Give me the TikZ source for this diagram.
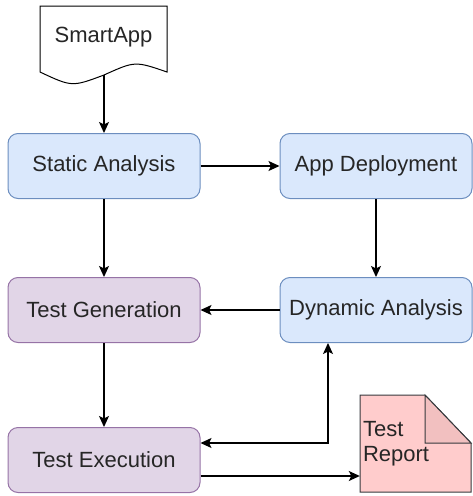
\documentclass[tikz,border=0pt]{standalone}
\usepackage{fontspec}
\setmainfont{Liberation Sans}
\usetikzlibrary{arrows.meta,calc}
\definecolor{bluefill}{HTML}{DAE8FC}
\definecolor{bluedraw}{HTML}{6C8EBF}
\definecolor{purpfill}{HTML}{E1D5E7}
\definecolor{purpdraw}{HTML}{9673A6}
\definecolor{notefill}{HTML}{FFCCCC}
\definecolor{notefold}{HTML}{F2C0C0}
\definecolor{notedraw}{HTML}{36393D}
\definecolor{txt}{HTML}{262626}
\begin{document}
\begin{tikzpicture}[x=1pt,y=-1pt,
  every node/.style={font=\fontsize{22}{25}\selectfont, text=txt, inner sep=0pt},
  box/.style={rounded corners=10pt, minimum width=192pt, minimum height=65pt, line width=1pt},
  bluebox/.style={box, draw=bluedraw, fill=bluefill},
  purpbox/.style={box, draw=purpdraw, fill=purpfill},
  arr/.style={-{Stealth[length=11pt,width=10pt,inset=2.5pt]}, line width=1.3pt, black},
  arrboth/.style={{Stealth[length=11pt,width=10pt,inset=2.5pt]}-{Stealth[length=11pt,width=10pt,inset=2.5pt]}, line width=1.3pt, black}]
\useasboundingbox (0,0) rectangle (472,496);
% document shape
\draw[line width=1pt, fill=white] (40,6) -- (167,6) -- (167,72) .. controls (135,61) .. (104,75) .. controls (72,87) .. (40,72) -- cycle;
\node (smart) at (103.5,37) {SmartApp};
\coordinate (smartb) at (104,75);
% boxes
\node[bluebox] (sa) at (104,166) {Static Analysis};
\node[bluebox] (ad) at (376,166) {App Deployment};
\node[purpbox] (tg) at (104,310) {Test Generation};
\node[bluebox] (da) at (376,310) {Dynamic Analysis};
\node[purpbox] (te) at (104,460) {Test Execution};
% note shape
\draw[line width=1pt, draw=notedraw, fill=notefill] (360,395) -- (425,395) -- (471,443) -- (471,492) -- (360,492) -- cycle;
\draw[line width=1pt, draw=notedraw, fill=notefold] (425,395) -- (425,443) -- (471,443) -- cycle;
\node[minimum height=97pt, text width=105pt, inner xsep=3pt, align=left] (tr) at (415.5,443.5) {Test\\Report};
% connectors
\draw[arr] (smartb) -- (sa);
\draw[arr] (sa) -- (ad);
\draw[arr] (sa) -- (tg);
\draw[arr] (ad) -- (da);
\draw[arr] (da) -- (tg);
\draw[arr] (tg) -- (te);
\draw[arrboth] (te.east |- 0,443) -| (da.south -| 328,0);
\draw[arr] (te.east |- 0,476) -- (tr.west |- 0,476);
\end{tikzpicture}
\end{document}
